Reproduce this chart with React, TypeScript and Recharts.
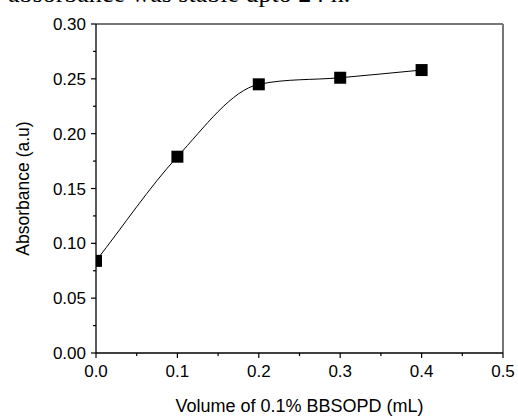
import React from 'react';
import { ComposedChart, Line, XAxis, YAxis, ReferenceLine } from 'recharts';

const volumes = [0.0, 0.1, 0.2, 0.3, 0.4];
const absorbance = [0.084, 0.179, 0.245, 0.251, 0.258];
const xTicks = [0, 0.05, 0.1, 0.15, 0.2, 0.25, 0.3, 0.35, 0.4, 0.45, 0.5];
const xMajor = [0, 0.1, 0.2, 0.3, 0.4, 0.5];
const yTicks = [0, 0.025, 0.05, 0.075, 0.1, 0.125, 0.15, 0.175, 0.2, 0.225, 0.25, 0.275, 0.3];
const yMajor = [0, 0.05, 0.1, 0.15, 0.2, 0.25, 0.3];
const xTitle = 'Volume of 0.1% BBSOPD (mL)';
const yTitle = 'Absorbance (a.u)';
const captionText = 'absorbance was stable upto 24 h.';

const data = volumes.map((v, i) => ({ x: v, y: absorbance[i] }));

const FONT = '"Liberation Sans", Arial, sans-serif';
const FS = 17;
const TICK_SIZE = 5;
const TICK_MARGIN_X = 7;
const TICK_MARGIN_Y = 5;

// Smooth spline through every point (d3 curve interface): Catmull-Rom tangents,
// limited so the curve does not overshoot on flat stretches.
const smoothCurve = (context: any) => {
  let pts: [number, number][] = [];
  return {
    areaStart() {},
    areaEnd() {},
    lineStart() {
      pts = [];
    },
    point(x: number, y: number) {
      pts.push([+x, +y]);
    },
    lineEnd() {
      const n = pts.length;
      if (n === 0) return;
      context.moveTo(pts[0][0], pts[0][1]);
      if (n === 1) return;
      const s: number[] = [];
      for (let k = 0; k < n - 1; k++) {
        s.push((pts[k + 1][1] - pts[k][1]) / (pts[k + 1][0] - pts[k][0]));
      }
      const m: number[] = [];
      for (let i = 0; i < n; i++) {
        if (i === 0) m.push(s[0]);
        else if (i === n - 1) m.push(s[n - 2]);
        else {
          const a = s[i - 1];
          const b = s[i];
          if (a * b <= 0) m.push(0);
          else {
            const cr = (pts[i + 1][1] - pts[i - 1][1]) / (pts[i + 1][0] - pts[i - 1][0]);
            const lim = 2.6 * Math.min(Math.abs(a), Math.abs(b));
            m.push(Math.sign(a) * Math.min(Math.abs(cr), lim));
          }
        }
      }
      for (let i = 0; i < n - 1; i++) {
        const h = pts[i + 1][0] - pts[i][0];
        context.bezierCurveTo(
          pts[i][0] + h / 3,
          pts[i][1] + (m[i] * h) / 3,
          pts[i + 1][0] - h / 3,
          pts[i + 1][1] - (m[i + 1] * h) / 3,
          pts[i + 1][0],
          pts[i + 1][1]
        );
      }
    },
  };
};

const isMajor = (list: number[], v: number) => list.some((mm) => Math.abs(mm - v) < 1e-9);

const XTick = (props: any) => {
  const { x, y, payload } = props;
  const v = payload.value as number;
  const major = isMajor(xMajor, v);
  const axisY = y - TICK_SIZE - TICK_MARGIN_X;
  const len = major ? 5 : 3;
  return (
    <g>
      <line x1={x} x2={x} y1={axisY} y2={axisY + len} stroke="#000" strokeWidth={1.2} />
      {major && (
        <text x={x} y={y} dy="0.71em" textAnchor="middle" fill="#000" fontSize={FS} fontFamily={FONT}>
          {v.toFixed(1)}
        </text>
      )}
    </g>
  );
};

const YTick = (props: any) => {
  const { x, y, payload } = props;
  const v = payload.value as number;
  const major = isMajor(yMajor, v);
  const axisX = x + TICK_SIZE + TICK_MARGIN_Y;
  const len = major ? 5 : 3;
  return (
    <g>
      <line x1={axisX - len} x2={axisX} y1={y} y2={y} stroke="#000" strokeWidth={1.2} />
      {major && (
        <text x={x} y={y} dy="0.355em" textAnchor="end" fill="#000" fontSize={FS} fontFamily={FONT}>
          {v.toFixed(2)}
        </text>
      )}
    </g>
  );
};

const XTitle = (props: any) => {
  const vb = props.viewBox || {};
  return (
    <text x={vb.x + vb.width / 2} y={vb.y + 59} textAnchor="middle" fill="#000" fontSize={18} fontFamily={FONT}>
      {xTitle}
    </text>
  );
};

const YTitle = (props: any) => {
  const vb = props.viewBox || {};
  const cx = vb.x + 23;
  const cy = vb.y + vb.height / 2;
  return (
    <text
      x={cx}
      y={cy}
      textAnchor="middle"
      dominantBaseline="central"
      transform={`rotate(-90 ${cx} ${cy})`}
      fill="#000"
      fontSize={17.5}
      fontFamily={FONT}
    >
      {yTitle}
    </text>
  );
};

const SquareDot = (p: any) => (
  <rect key={`dot-${p.index}`} x={p.cx - 6} y={p.cy - 6} width={12} height={12} fill="#000" />
);

export default function App() {
  return (
    <div style={{ position: 'absolute', left: 0, top: 0, width: 518, height: 417, overflow: 'hidden', background: '#fff' }}>
      <div
        style={{
          position: 'absolute',
          left: 8,
          top: -19,
          fontFamily: '"Liberation Serif", "Times New Roman", serif',
          fontSize: 26,
          lineHeight: '26px',
          whiteSpace: 'nowrap',
          color: '#000',
        }}
      >
        {captionText}
      </div>
      <ComposedChart width={518} height={417} data={data} margin={{ top: 24, right: 15, bottom: 0, left: 0 }}>
        <XAxis
          dataKey="x"
          type="number"
          domain={[0, 0.5]}
          allowDataOverflow
          ticks={xTicks}
          interval={0}
          tickSize={TICK_SIZE}
          tickMargin={TICK_MARGIN_X}
          tickLine={false}
          tick={<XTick />}
          height={64}
          axisLine={{ stroke: '#000', strokeWidth: 1.3 }}
          label={{ content: XTitle }}
        />
        <YAxis
          dataKey="y"
          type="number"
          domain={[0, 0.3]}
          allowDataOverflow
          ticks={yTicks}
          interval={0}
          tickSize={TICK_SIZE}
          tickMargin={TICK_MARGIN_Y}
          tickLine={false}
          tick={<YTick />}
          width={96}
          axisLine={{ stroke: '#000', strokeWidth: 1.3 }}
          label={{ content: YTitle }}
        />
        <ReferenceLine y={0.3} stroke="#777" strokeWidth={2} />
        <ReferenceLine x={0.5} stroke="#777" strokeWidth={2} />
        <Line
          dataKey="y"
          type={smoothCurve as any}
          stroke="#000"
          strokeWidth={1}
          dot={SquareDot}
          activeDot={false}
          isAnimationActive={false}
        />
      </ComposedChart>
    </div>
  );
}
